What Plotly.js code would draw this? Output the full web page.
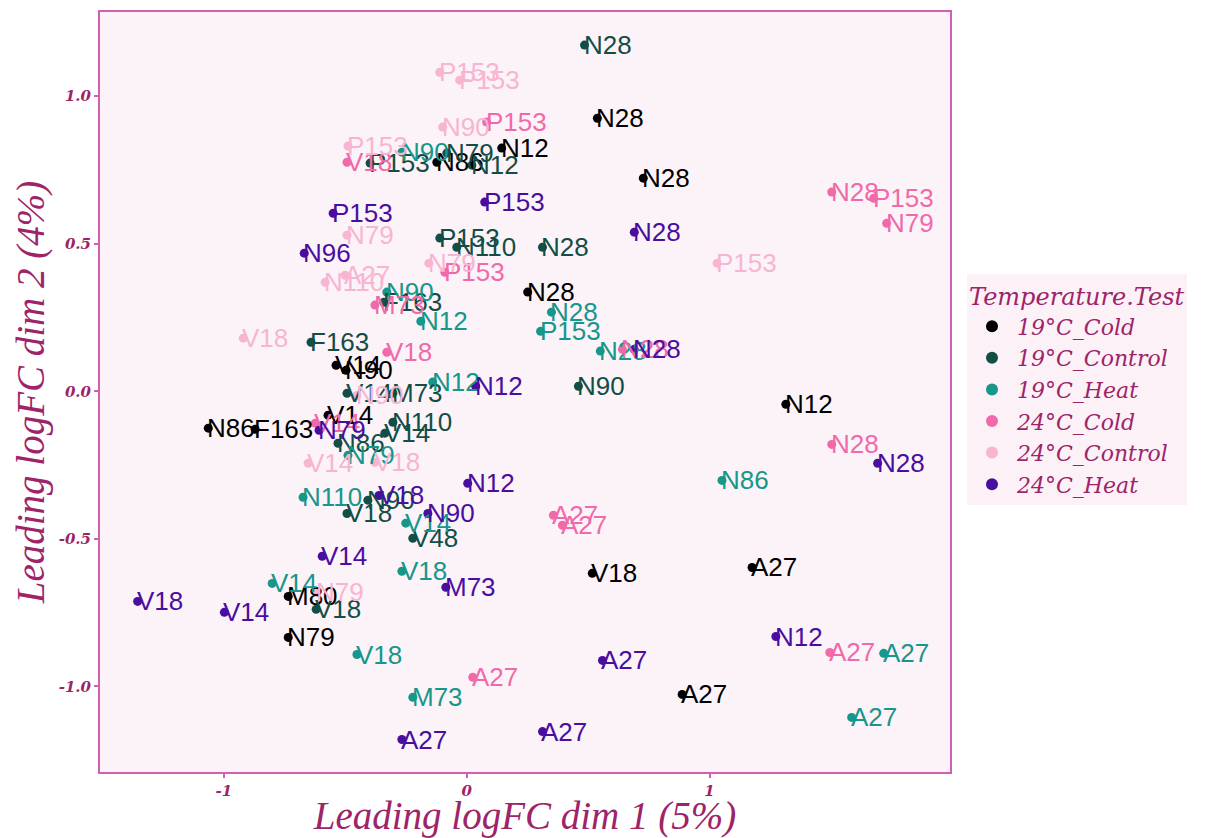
<!DOCTYPE html>
<html>
<head>
<meta charset="utf-8">
<script src="https://cdn.plot.ly/plotly-3.0.1.min.js"></script>
<style>html,body{margin:0;padding:0;background:#fff;}#chart{width:1209px;height:838px;}</style>
</head>
<body>
<div id="chart"></div>
<script>
// ---- data ----
const groupNames = ["19°C_Cold", "19°C_Control", "19°C_Heat", "24°C_Cold", "24°C_Control", "24°C_Heat"];

const cold19_lab = ["N28","N12","N86","N28","N28","V14","N90","V14","N86","F163","N12","V18","A27","M80","N79","A27"];
const cold19_x   = [0.538,0.144,-0.123,0.727,0.251,-0.538,-0.497,-0.571,-1.064,-0.871,1.314,0.517,1.175,-0.735,-0.735,0.887];
const cold19_y   = [0.925,0.824,0.776,0.722,0.336,0.088,0.071,-0.081,-0.125,-0.129,-0.044,-0.617,-0.597,-0.695,-0.834,-1.027];

const control19_lab = ["N28","P153","N79","N12","P153","N110","N28","F163","F163","V14","M73","N90","N110","V14","N86","N90","V18","V48","V18"];
const control19_x   = [0.485,-0.398,-0.082,0.021,-0.111,-0.041,0.312,-0.341,-0.641,-0.493,-0.304,0.460,-0.304,-0.337,-0.530,-0.407,-0.493,-0.222,-0.620];
const control19_y   = [1.173,0.773,0.807,0.766,0.519,0.488,0.488,0.302,0.166,-0.007,-0.007,0.017,-0.105,-0.142,-0.176,-0.369,-0.414,-0.498,-0.739];

const heat19_lab = ["N90","N90","N12","N28","P153","N28","N12","N79","N110","V14","N86","V18","V14","V18","M73","A27","A27"];
const heat19_x   = [-0.267,-0.329,-0.189,0.349,0.304,0.550,-0.140,-0.489,-0.674,-0.251,1.051,-0.267,-0.801,-0.452,-0.222,1.717,1.585];
const heat19_y   = [0.810,0.336,0.237,0.268,0.203,0.136,0.031,-0.217,-0.359,-0.447,-0.302,-0.610,-0.651,-0.892,-1.037,-0.888,-1.105];

const cold24_lab = ["P153","V18","P153","M73","V18","V14","N28","N28","P153","N79","N28","A27","A27","A27","A27"];
const cold24_x   = [0.082,-0.493,-0.090,-0.378,-0.329,-0.624,0.641,1.503,1.676,1.729,1.503,0.357,0.394,0.025,1.495];
const cold24_y   = [0.912,0.776,0.403,0.292,0.132,-0.108,0.142,0.675,0.654,0.569,-0.180,-0.420,-0.454,-0.969,-0.885];

const control24_lab = ["P153","P153","N90","P153","N79","A27","N110","N79","V18","N90","V14","V18","N79","P153"];
const control24_x   = [-0.111,-0.029,-0.099,-0.489,-0.493,-0.501,-0.583,-0.156,-0.920,-0.452,-0.653,-0.378,-0.616,1.031];
const control24_y   = [1.081,1.054,0.895,0.831,0.529,0.393,0.369,0.434,0.180,-0.014,-0.244,-0.241,-0.681,0.434];

const heat24_lab = ["P153","P153","N96","N28","N28","N12","N79","N12","V18","N90","V14","M73","V18","V14","N28","N12","A27","A27","A27"];
const heat24_x   = [0.074,-0.550,-0.669,0.690,0.690,0.037,-0.608,0.004,-0.361,-0.160,-0.595,-0.086,-1.355,-0.998,1.692,1.273,0.559,0.312,-0.267];
const heat24_y   = [0.641,0.603,0.468,0.539,0.142,0.017,-0.132,-0.312,-0.353,-0.414,-0.559,-0.664,-0.712,-0.749,-0.244,-0.831,-0.912,-1.153,-1.180];

const xTickVals = [-1, 0, 1];
const xTickText = ["-1", "0", "1"];
const yTickVals = [-1, -0.5, 0, 0.5, 1];
const yTickText = ["-1.0", "-0.5", "0.0", "0.5", "1.0"];

const xTitle = "Leading logFC dim 1 (5%)";
const yTitle = "Leading logFC dim 2 (4%)";
const legendTitle = "Temperature.Test";

// ---- styling ----
const groupColors = ["#000000", "#124E45", "#17968A", "#F06AAA", "#F7B5D2", "#4A0E9E"];
const magenta = "#9E2469";
const frame = "#D45FB2";
const scriptFont = "Liberation Serif, DejaVu Serif, serif";
const wideScript = "DejaVu Serif, Liberation Serif, serif";

const series = [
  [cold19_x, cold19_y, cold19_lab],
  [control19_x, control19_y, control19_lab],
  [heat19_x, heat19_y, heat19_lab],
  [cold24_x, cold24_y, cold24_lab],
  [control24_x, control24_y, control24_lab],
  [heat24_x, heat24_y, heat24_lab]
];

const traces = [];
const annotations = [];
series.forEach((s, gi) => {
  traces.push({
    type: "scatter",
    mode: "markers",
    name: groupNames[gi],
    x: s[0],
    y: s[1],
    text: s[2],
    marker: { color: groupColors[gi], size: 9 },
    hoverinfo: "x+y+text"
  });
});
series.forEach((s, gi) => {
  s[2].forEach((lab, i) => {
    annotations.push({
      x: s[0][i], y: s[1][i], xref: "x", yref: "y",
      text: lab, showarrow: false,
      xanchor: "left", yanchor: "middle", xshift: -2, borderpad: 0,
      font: { family: "Liberation Sans, Arial, sans-serif", size: 26, color: groupColors[gi] }
    });
  });
});

const layout = {
  width: 1209, height: 838,
  margin: { l: 100, r: 259, t: 12, b: 66 },
  paper_bgcolor: "#ffffff",
  plot_bgcolor: "#FCF3F8",
  showlegend: true,
  xaxis: {
    range: [-1.51, 1.99],
    tickvals: xTickVals, ticktext: xTickText,
    showgrid: false, zeroline: false,
    showline: true, mirror: true, linecolor: frame, linewidth: 2,
    ticks: "outside", ticklen: 4, tickcolor: frame, tickwidth: 2,
    tickfont: { family: wideScript, size: 15, color: magenta, style: "italic", weight: "bold" },
    title: { text: xTitle, standoff: 4, font: { family: scriptFont, size: 39, color: magenta, style: "italic" } }
  },
  yaxis: {
    range: [-1.29, 1.285],
    tickvals: yTickVals, ticktext: yTickText,
    showgrid: false, zeroline: false,
    showline: true, mirror: true, linecolor: frame, linewidth: 2,
    ticks: "outside", ticklen: 4, tickcolor: frame, tickwidth: 2,
    tickfont: { family: wideScript, size: 15, color: magenta, style: "italic", weight: "bold" },
    title: { text: yTitle, standoff: 2, font: { family: scriptFont, size: 39, color: magenta, style: "italic" } }
  },
  legend: {
    x: 1.02, y: 0.655, xanchor: "left", yanchor: "top",
    bgcolor: "#FCF1F7", borderwidth: 0,
    itemsizing: "constant", itemwidth: 40,
    font: { family: wideScript, size: 22, color: magenta, style: "italic" },
    title: { text: legendTitle, font: { family: wideScript, size: 24, color: magenta, style: "italic" } }
  },
  annotations: annotations
};

Plotly.newPlot("chart", traces, layout, { displayModeBar: false, staticPlot: true });
</script>
</body>
</html>
